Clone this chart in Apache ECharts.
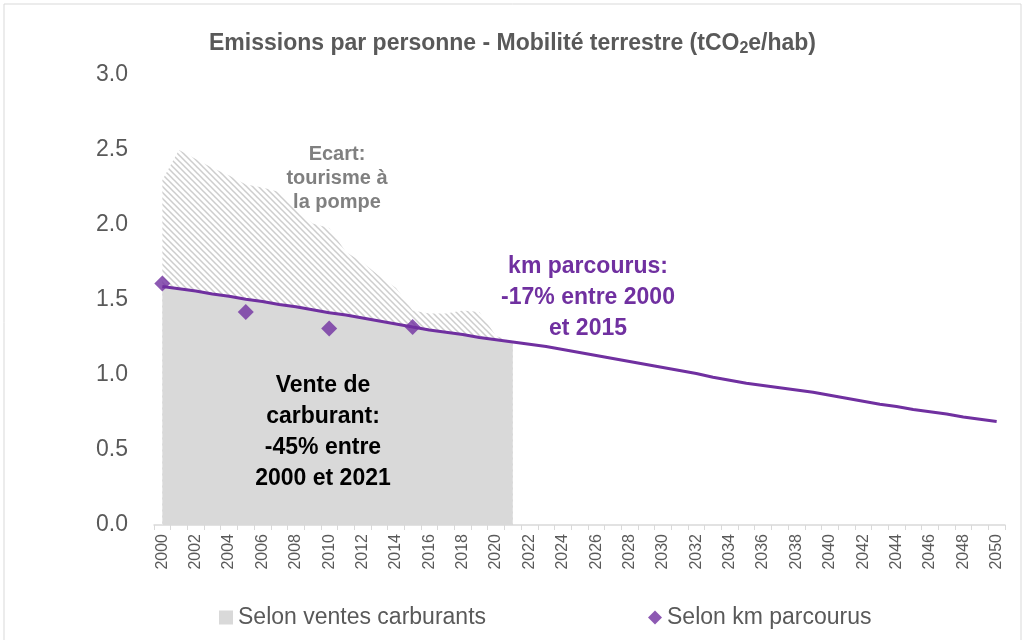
<!DOCTYPE html>
<html>
<head>
<meta charset="utf-8">
<script src="https://cdn.jsdelivr.net/npm/echarts@6/dist/echarts.min.js"></script>
<style>
  html, body { margin: 0; padding: 0; background: #fff; }
  #chart { width: 1025px; height: 640px; }
</style>
</head>
<body>
<div id="chart"></div>
<script>
// années 2000 -> 2050
var years = [];
for (var y = 2000; y <= 2050; y++) years.push(String(y));

// selon km parcourus (courbe), 2000 -> 2050
var kmLine = [1.59, 1.575, 1.56, 1.54, 1.525, 1.505, 1.49, 1.47, 1.455, 1.435,
  1.415, 1.40, 1.38, 1.36, 1.34, 1.32, 1.30, 1.285, 1.27, 1.25,
  1.235, 1.22, 1.205, 1.19, 1.17, 1.15, 1.13, 1.11, 1.09, 1.07,
  1.05, 1.03, 1.01, 0.985, 0.965, 0.945, 0.93, 0.915, 0.90, 0.885,
  0.865, 0.845, 0.825, 0.805, 0.79, 0.77, 0.755, 0.74, 0.72, 0.705, 0.69];

// points mesurés selon km parcourus
var kmPoints = [[0, 1.61], [5, 1.42], [10, 1.31], [15, 1.32]];

// ventes carburants (haut de la zone hachurée), 2000 -> 2021
var ventes = [2.30, 2.50, 2.44, 2.38, 2.33, 2.27, 2.25, 2.22, 2.10, 2.01,
  1.98, 1.82, 1.75, 1.66, 1.58, 1.43, 1.41, 1.41, 1.43, 1.42, 1.26, 1.22];

// zone grise pleine (sous la courbe km), 2000 -> 2021
var grisPlein = kmLine.slice(0, 22);

// motif hachuré
var hatch = document.createElement('canvas');
hatch.width = 6; hatch.height = 6;
var hc = hatch.getContext('2d');
hc.fillStyle = '#ffffff';
hc.fillRect(0, 0, 6, 6);
hc.strokeStyle = '#cdcdcd';
hc.lineWidth = 1.5;
hc.beginPath();
hc.moveTo(-1, -1); hc.lineTo(7, 7);
hc.moveTo(-4, 2); hc.lineTo(4, 10);
hc.moveTo(2, -4); hc.lineTo(10, 4);
hc.stroke();

var grey = '#595959';
var purple = '#7030a0';
var font = '"Liberation Sans", Arial, sans-serif';

var chart = echarts.init(document.getElementById('chart'));
chart.setOption({
  animation: false,
  textStyle: { fontFamily: font },
  title: {
    text: 'Emissions par personne - Mobilité terrestre (tCO{sub|2}e/hab)',
    left: 'center',
    top: 26,
    textStyle: {
      fontSize: 23, fontWeight: 'bold', color: grey, fontFamily: font,
      rich: {
        sub: { fontSize: 16, fontWeight: 'bold', color: grey, fontFamily: font, padding: [10, 0, 0, 0] }
      }
    }
  },
  grid: { left: 154, right: 20, top: 75, bottom: 115 },
  legend: [{
    left: 214, top: 601,
    itemWidth: 14, itemHeight: 14, itemGap: 8,
    textStyle: { fontSize: 23, color: grey, fontFamily: font },
    data: [{ name: 'Selon ventes carburants', icon: 'rect' }]
  }, {
    left: 643, top: 601,
    itemWidth: 14, itemHeight: 14, itemGap: 6,
    textStyle: { fontSize: 23, color: grey, fontFamily: font },
    data: [{ name: 'Selon km parcourus', icon: 'diamond' }]
  }],
  xAxis: {
    type: 'category',
    data: years,
    boundaryGap: true,
    axisLine: { lineStyle: { color: '#d9d9d9', width: 1.5 } },
    axisTick: { show: true, interval: 0, length: 5, lineStyle: { color: '#d9d9d9' } },
    axisLabel: { rotate: 90, interval: 1, fontSize: 16, color: grey, margin: 9 },
    splitLine: { show: false }
  },
  yAxis: {
    type: 'value',
    min: 0, max: 3, interval: 0.5,
    axisLine: { show: false },
    axisTick: { show: false },
    splitLine: { show: false },
    axisLabel: {
      fontSize: 23, color: grey, margin: 26,
      formatter: function (v) { return v.toFixed(1); }
    }
  },
  series: [{
    name: 'Ecart',
    type: 'line',
    data: ventes,
    symbol: 'none',
    lineStyle: { width: 0 },
    areaStyle: { color: { image: hatch, repeat: 'repeat' }, opacity: 1 },
    z: 1
  }, {
    name: 'Selon ventes carburants',
    type: 'line',
    data: grisPlein,
    symbol: 'none',
    itemStyle: { color: '#d9d9d9' },
    lineStyle: { width: 0 },
    areaStyle: { color: '#d9d9d9', opacity: 1 },
    z: 2
  }, {
    name: 'km ligne',
    type: 'line',
    data: kmLine,
    symbol: 'none',
    lineStyle: { color: purple, width: 3 },
    z: 3
  }, {
    name: 'Selon km parcourus',
    type: 'scatter',
    data: kmPoints,
    symbol: 'diamond',
    symbolSize: 16,
    itemStyle: { color: purple },
    z: 4
  }],
  graphic: [{
    type: 'rect',
    z: 100,
    shape: { x: 4, y: 4, width: 1017, height: 645 },
    style: { fill: null, stroke: '#d9d9d9', lineWidth: 1 },
    silent: true
  }, {
    type: 'text',
    z: 100,
    x: 337, y: 142,
    style: {
      text: 'Ecart:\ntourisme à\nla pompe',
      align: 'center', fill: '#808080',
      font: 'bold 20px ' + font, lineHeight: 24
    }
  }, {
    type: 'text',
    z: 100,
    x: 588, y: 251,
    style: {
      text: 'km parcourus:\n-17% entre 2000\net 2015',
      align: 'center', fill: purple,
      font: 'bold 23px ' + font, lineHeight: 31
    }
  }, {
    type: 'text',
    z: 100,
    x: 323, y: 370,
    style: {
      text: 'Vente de\ncarburant:\n-45% entre\n2000 et 2021',
      align: 'center', fill: '#000000',
      font: 'bold 23px ' + font, lineHeight: 31
    }
  }]
});
</script>
</body>
</html>
